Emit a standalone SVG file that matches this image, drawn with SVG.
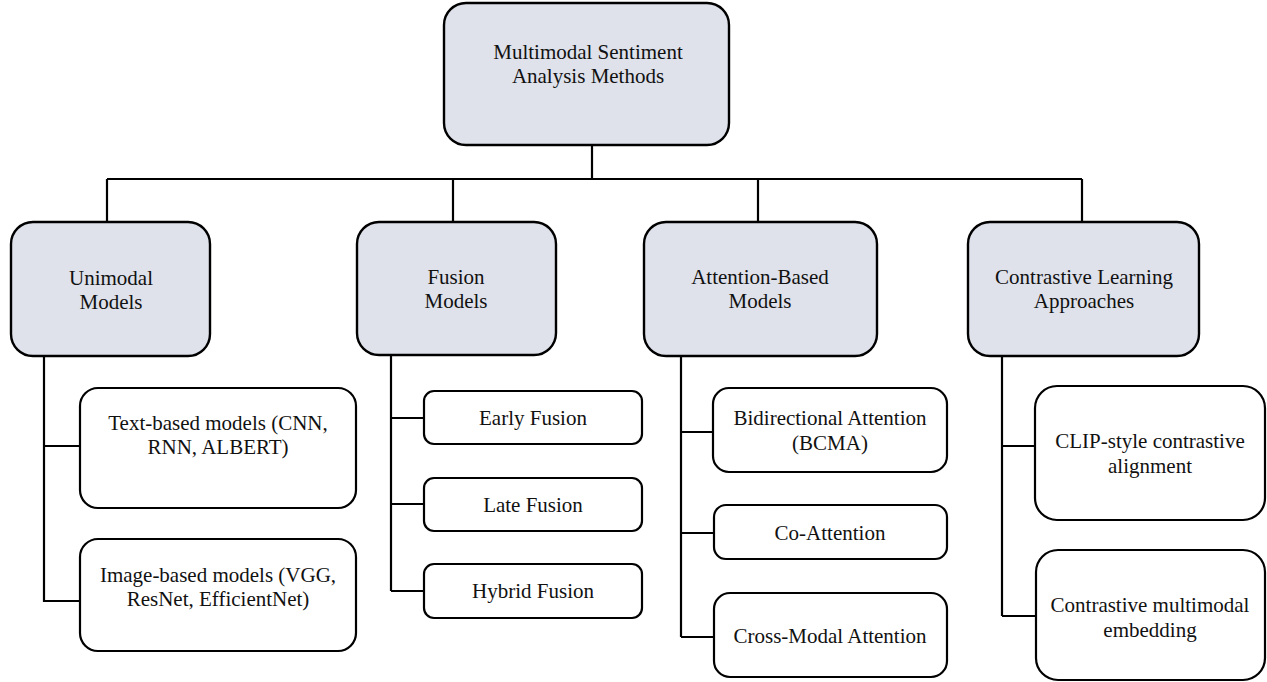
<svg xmlns="http://www.w3.org/2000/svg" width="1267" height="682" viewBox="0 0 1267 682">
<style>
.box{fill:#ffffff;stroke:#000;stroke-width:2.2}
.cat{fill:#dfe2eb;stroke:#000;stroke-width:2.4}
.t{font-family:"Liberation Serif","Times New Roman",serif;font-size:21px;fill:#111;text-anchor:middle}
.c{fill:none;stroke:#000;stroke-width:2.2}
</style>
<rect width="1267" height="682" fill="#fff"/>
<g id="connectors">
<path class="c" d="M592 145V179M107 179H1082M107 179V222M453 179V222M758 179V222M1082 179V222"/>
<path class="c" d="M44 356V602M44 446H80M44 601H80"/>
<path class="c" d="M391 355V591M391 418H424M391 504H424M391 591H424"/>
<path class="c" d="M681 356V637M681 432H713M681 533H714M681 637H714"/>
<path class="c" d="M1002 356V616M1002 446H1035M1002 616H1036"/>
</g>
<g id="root">
<rect class="cat" x="444" y="3" width="285" height="142" rx="22"/>
<text class="t" x="588" y="59">Multimodal Sentiment</text>
<text class="t" x="588" y="83">Analysis Methods</text>
</g>
<g id="unimodal">
<rect class="cat" x="11" y="222" width="199" height="134" rx="22"/>
<text class="t" x="111" y="285">Unimodal</text>
<text class="t" x="111" y="309">Models</text>
</g>
<g id="fusion">
<rect class="cat" x="357" y="222" width="199" height="133" rx="22"/>
<text class="t" x="456" y="284">Fusion</text>
<text class="t" x="456" y="308">Models</text>
</g>
<g id="attention">
<rect class="cat" x="644" y="222" width="233" height="134" rx="22"/>
<text class="t" x="760" y="284">Attention-Based</text>
<text class="t" x="760" y="308">Models</text>
</g>
<g id="contrastive">
<rect class="cat" x="968" y="222" width="231" height="134" rx="22"/>
<text class="t" x="1084" y="284">Contrastive Learning</text>
<text class="t" x="1084" y="308">Approaches</text>
</g>
<g id="text-based">
<rect class="box" x="80" y="388" width="276" height="120" rx="18"/>
<text class="t" x="218" y="430">Text-based models (CNN,</text>
<text class="t" x="218" y="454">RNN, ALBERT)</text>
</g>
<g id="image-based">
<rect class="box" x="80" y="539" width="276" height="112" rx="18"/>
<text class="t" x="218" y="582">Image-based models (VGG,</text>
<text class="t" x="218" y="606">ResNet, EfficientNet)</text>
</g>
<g id="early">
<rect class="box" x="424" y="391" width="218" height="53" rx="10"/>
<text class="t" x="533" y="425">Early Fusion</text>
</g>
<g id="late">
<rect class="box" x="424" y="478" width="218" height="53" rx="10"/>
<text class="t" x="533" y="512">Late Fusion</text>
</g>
<g id="hybrid">
<rect class="box" x="424" y="564" width="218" height="54" rx="10"/>
<text class="t" x="533" y="598">Hybrid Fusion</text>
</g>
<g id="bidirectional">
<rect class="box" x="713" y="388" width="234" height="84" rx="16"/>
<text class="t" x="830" y="425">Bidirectional Attention</text>
<text class="t" x="830" y="450">(BCMA)</text>
</g>
<g id="co-attention">
<rect class="box" x="714" y="505" width="233" height="54" rx="12"/>
<text class="t" x="830" y="540">Co-Attention</text>
</g>
<g id="cross-modal">
<rect class="box" x="714" y="593" width="233" height="84" rx="16"/>
<text class="t" x="830" y="643">Cross-Modal Attention</text>
</g>
<g id="clip">
<rect class="box" x="1035" y="386" width="230" height="134" rx="22"/>
<text class="t" x="1150" y="448">CLIP-style contrastive</text>
<text class="t" x="1150" y="473">alignment</text>
</g>
<g id="contrastive-embedding">
<rect class="box" x="1036" y="550" width="229" height="130" rx="22"/>
<text class="t" x="1150" y="612">Contrastive multimodal</text>
<text class="t" x="1150" y="637">embedding</text>
</g>
</svg>
